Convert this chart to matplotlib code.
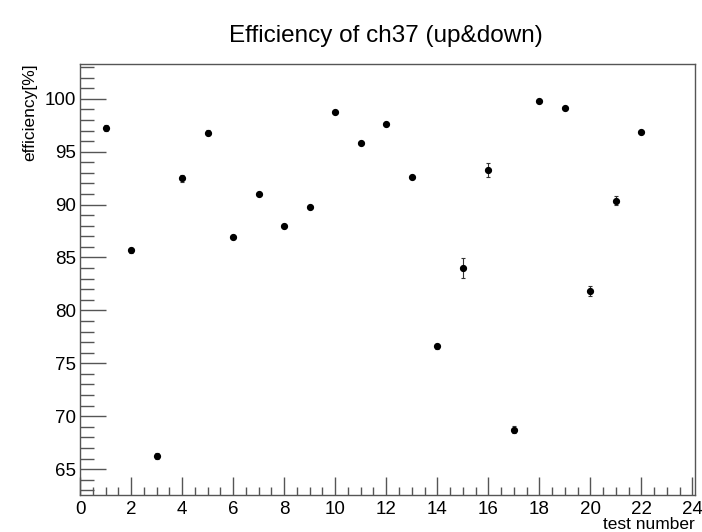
import matplotlib
matplotlib.use("Agg")
import matplotlib.pyplot as plt
from matplotlib.ticker import MultipleLocator

plt.rcParams["font.family"] = ["Liberation Sans", "DejaVu Sans"]

test_number = list(range(1, 23))
efficiency = [97.25, 85.66, 66.26, 92.48, 96.80, 86.93, 90.97, 87.94, 89.74, 98.73, 95.83,
              97.57, 92.61, 76.62, 84.03, 93.24, 68.72, 99.77, 99.15, 81.86, 90.37, 96.88]
efficiency_err = [0.25, 0.25, 0.3, 0.3, 0.22, 0.15, 0.1, 0.18, 0.1, 0.08, 0.1,
                  0.1, 0.1, 0.25, 0.95, 0.68, 0.35, 0.05, 0.08, 0.48, 0.42, 0.1]

frame_color = "#555555"

fig = plt.figure(figsize=(7.02, 5.32), dpi=100)
ax = fig.add_axes([0.114, 0.0695, 0.876, 0.8105])

ax.errorbar(test_number, efficiency, yerr=efficiency_err, fmt="o", color="black",
            ecolor="#333333", elinewidth=0.8, capsize=1.5, capthick=0.8, markersize=4.2)

ax.set_xlim(0, 24.1)
ax.set_ylim(62.55, 103.3)
ax.xaxis.set_major_locator(MultipleLocator(2))
ax.xaxis.set_minor_locator(MultipleLocator(0.5))
ax.yaxis.set_major_locator(MultipleLocator(5))
ax.yaxis.set_minor_locator(MultipleLocator(1))

ax.tick_params(axis="both", which="both", direction="in", color=frame_color,
               top=False, right=False, labelsize=13.5, width=1.0)
ax.tick_params(axis="x", which="major", length=13, pad=4)
ax.tick_params(axis="x", which="minor", length=6)
ax.tick_params(axis="y", which="major", length=19, pad=3)
ax.tick_params(axis="y", which="minor", length=10)
for s in ax.spines.values():
    s.set_color(frame_color)
    s.set_linewidth(1.0)

ax.set_xlabel("test number", fontsize=12.5, loc="right", labelpad=-0.5)
ax.set_ylabel("efficiency[%]", fontsize=12.5, loc="top", labelpad=5)
fig.suptitle("Efficiency of ch37 (up&down)", fontsize=17.5, x=0.55, y=0.953)

fig.savefig("out.png", dpi=100)
